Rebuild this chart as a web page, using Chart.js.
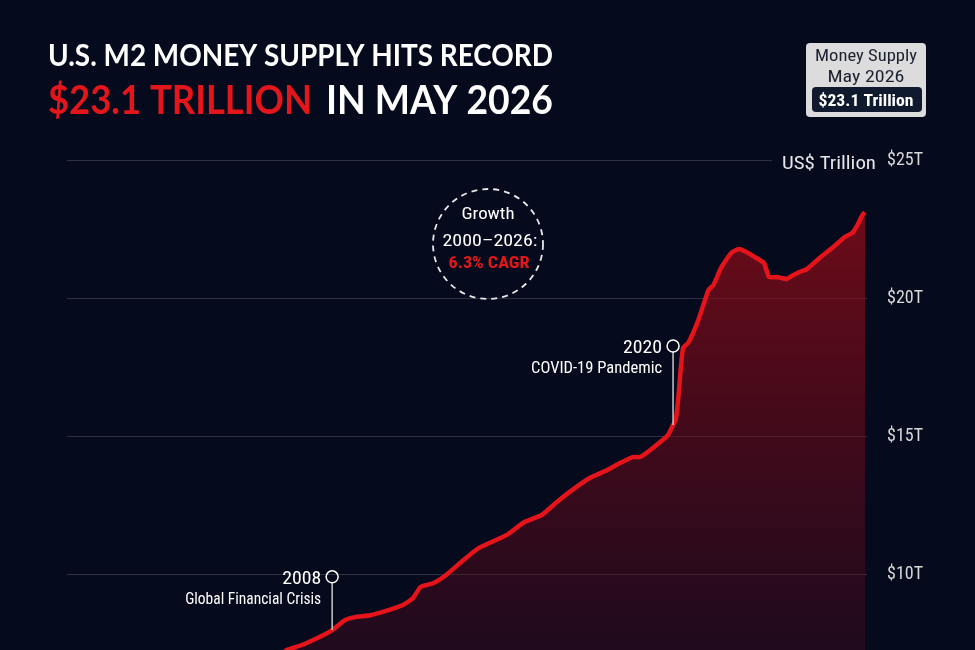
<!DOCTYPE html>
<html>
<head>
<meta charset="utf-8">
<script src="https://cdn.jsdelivr.net/npm/chart.js@4.4.1/dist/chart.umd.min.js"></script>
<style>
  html, body { margin: 0; padding: 0; background: #050a1c; overflow: hidden; }
  #wrap { position: relative; width: 975px; height: 650px; }
</style>
</head>
<body>
<div id="wrap"><canvas id="m2Chart" width="975" height="650"></canvas></div>
<script>
// M2 money supply, US$ trillion (month -> value)
const months = [
  '2000-01', '2001-01', '2002-01', '2003-01', '2004-01', '2005-01', '2006-01', '2007-01',
  '2007-04', '2007-10', '2008-05', '2008-10', '2009-03', '2009-07', '2010-01', '2010-07',
  '2011-02', '2011-06', '2011-09', '2012-02', '2012-07', '2013-01', '2013-08', '2014-07',
  '2015-02', '2015-09', '2016-03', '2016-09', '2017-04', '2017-11', '2018-04', '2018-09',
  '2018-12', '2019-05', '2019-11', '2020-01', '2020-02', '2020-03', '2020-04', '2020-05',
  '2020-07', '2020-11', '2021-03', '2021-05', '2021-08', '2021-12', '2022-03', '2022-06',
  '2022-10', '2023-01', '2023-03', '2023-06', '2023-10', '2023-12', '2024-03', '2024-06',
  '2024-11', '2025-04', '2025-09', '2025-12', '2026-02', '2026-04', '2026-05'
];
const m2Trillions = [
  4.66, 4.95, 5.45, 5.8, 6.1, 6.45, 6.7, 7.05,
  7.25, 7.43, 7.72, 7.97, 8.33, 8.44, 8.51, 8.66,
  8.88, 9.13, 9.53, 9.67, 9.96, 10.43, 10.94, 11.41,
  11.88, 12.14, 12.61, 13.04, 13.48, 13.77, 14.02, 14.24,
  14.24, 14.57, 15.04, 15.40, 15.58, 16.3, 17.4, 18.2,
  18.37, 19.2, 20.29, 20.47, 21.09, 21.63, 21.78, 21.67,
  21.45, 21.27, 20.76, 20.76, 20.69, 20.8, 20.94, 21.05,
  21.45, 21.81, 22.21, 22.36, 22.64, 23.01, 23.1
];
const yTicks = [10, 15, 20, 25];

// event markers: month on the line, value where the marker circle sits
const eventYears = ['2008', '2020'];
const eventLabels = ['Global Financial Crisis', 'COVID-19 Pandemic'];
const eventMonths = ['2008-10', '2020-01'];
const eventTops = [9.9, 18.26];

const BG = '#050a1c';
const RED = '#e5141b';
const NARROW = "'Liberation Sans Narrow', 'Roboto Condensed', Roboto, sans-serif";

const toYear = (s) => {
  const [y, m] = s.split('-').map(Number);
  return y + (m - 1) / 12;
};

// draw text squeezed/stretched to a given width
function fitText(ctx, text, x, y, w, align) {
  const m = ctx.measureText(text).width;
  let left = x;
  if (align === 'right') left = x - w;
  if (align === 'center') left = x - w / 2;
  ctx.save();
  ctx.textAlign = 'left';
  ctx.translate(left, y);
  ctx.scale(w / m, 1);
  ctx.fillText(text, 0, 0);
  ctx.restore();
}

const decor = {
  id: 'decor',
  beforeDraw(chart) {
    const ctx = chart.ctx;
    ctx.save();
    ctx.fillStyle = BG;
    ctx.fillRect(0, 0, chart.width, chart.height);
    ctx.restore();
  },
  afterDraw(chart) {
    const ctx = chart.ctx;
    const xs = chart.scales.x, ys = chart.scales.y;
    ctx.save();
    ctx.textBaseline = 'alphabetic';

    // title
    ctx.fillStyle = '#ffffff';
    ctx.font = "bold 30px Lato, sans-serif";
    fitText(ctx, 'U.S. M2 MONEY SUPPLY HITS RECORD', 48, 66, 505, 'left');
    ctx.font = "bold 40px Lato, sans-serif";
    ctx.fillStyle = '#e3161b';
    fitText(ctx, '$23.1 TRILLION', 48, 114, 264, 'left');
    ctx.fillStyle = '#ffffff';
    fitText(ctx, 'IN MAY 2026', 326, 114, 227, 'left');

    // badge top right
    ctx.fillStyle = '#dcdcdc';
    ctx.beginPath();
    ctx.roundRect(806, 43, 120, 74, 4);
    ctx.fill();
    ctx.fillStyle = '#1c2030';
    ctx.font = "17px " + NARROW;
    fitText(ctx, 'Money Supply', 866, 61, 102, 'center');
    fitText(ctx, 'May 2026', 866, 82, 77, 'center');
    ctx.fillStyle = '#0f1a2e';
    ctx.beginPath();
    ctx.roundRect(812, 87, 110, 25, 4);
    ctx.fill();
    ctx.fillStyle = '#ffffff';
    ctx.font = "bold 17px " + NARROW;
    fitText(ctx, '$23.1 Trillion', 866, 106, 95, 'center');

    // unit label on the top grid line
    const y25 = ys.getPixelForValue(25);
    ctx.fillStyle = BG;
    ctx.fillRect(772, y25 - 4, 100, 8);
    ctx.fillStyle = '#e6e6e6';
    ctx.font = "18px " + NARROW;
    fitText(ctx, 'US$ Trillion', 782, y25 + 9, 94, 'left');

    // event markers
    eventYears.forEach((yr, i) => {
      const idx = months.indexOf(eventMonths[i]);
      const px = xs.getPixelForValue(toYear(eventMonths[i]));
      const pTop = ys.getPixelForValue(eventTops[i]);
      const pLine = ys.getPixelForValue(m2Trillions[idx]);
      ctx.strokeStyle = '#c9c9c9';
      ctx.lineWidth = 1.5;
      ctx.beginPath();
      ctx.moveTo(px, pTop + 6);
      ctx.lineTo(px, pLine);
      ctx.stroke();
      ctx.strokeStyle = '#ffffff';
      ctx.lineWidth = 1.5;
      ctx.beginPath();
      ctx.arc(px, pTop, 6, 0, Math.PI * 2);
      ctx.stroke();
      ctx.fillStyle = '#ffffff';
      ctx.font = "18px " + NARROW;
      fitText(ctx, yr, px - 11, pTop + 7, 39, 'right');
      ctx.font = "16px " + NARROW;
      fitText(ctx, eventLabels[i], px - 11, pTop + 27, i === 0 ? 136 : 131, 'right');
    });

    // growth callout
    ctx.strokeStyle = '#e8e8e8';
    ctx.lineWidth = 1.8;
    ctx.setLineDash([6, 5]);
    ctx.beginPath();
    ctx.arc(488, 244, 55, 0, Math.PI * 2);
    ctx.stroke();
    ctx.setLineDash([]);
    ctx.fillStyle = '#ffffff';
    ctx.font = "17px " + NARROW;
    fitText(ctx, 'Growth', 488, 219, 53, 'center');
    fitText(ctx, '2000\u20132026:', 490, 246, 95, 'center');
    ctx.fillStyle = '#e3161b';
    ctx.font = "bold 16px " + NARROW;
    fitText(ctx, '6.3% CAGR', 489, 268, 81, 'center');

    ctx.restore();
  }
};

new Chart(document.getElementById('m2Chart'), {
  type: 'line',
  data: {
    datasets: [{
      label: 'M2',
      data: months.map((m, i) => ({ x: toYear(m), y: m2Trillions[i] })),
      borderColor: RED,
      borderWidth: 4.5,
      pointRadius: 0,
      tension: 0.15,
      fill: 'start',
      backgroundColor: (context) => {
        const area = context.chart.chartArea;
        if (!area) return 'rgba(120,10,20,0.5)';
        const g = context.chart.ctx.createLinearGradient(0, area.top, 0, area.bottom);
        g.addColorStop(0, 'rgba(160,12,24,0.75)');
        g.addColorStop(0.5, 'rgba(125,10,24,0.55)');
        g.addColorStop(1, 'rgba(90,10,30,0.32)');
        return g;
      }
    }]
  },
  options: {
    responsive: false,
    animation: false,
    layout: { padding: { left: 67, top: 160, right: 0, bottom: 0 } },
    plugins: { legend: { display: false }, tooltip: { enabled: false } },
    scales: {
      x: { type: 'linear', min: 2000, max: 2026.4, display: false },
      y: {
        position: 'right',
        min: 7.25,
        max: 25,
        afterBuildTicks: (s) => { s.ticks = yTicks.map((v) => ({ value: v })); },
        afterFit: (s) => { s.width = 108; s.paddingTop = 0; s.paddingBottom = 0; },
        border: { display: false },
        grid: { color: 'rgba(255,255,255,0.16)', lineWidth: 1, drawTicks: false },
        ticks: {
          color: '#d8d8d8',
          padding: 20,
          font: { family: NARROW, size: 18 },
          callback: (v) => '$' + v + 'T'
        }
      }
    }
  },
  plugins: [decor]
});
</script>
</body>
</html>
